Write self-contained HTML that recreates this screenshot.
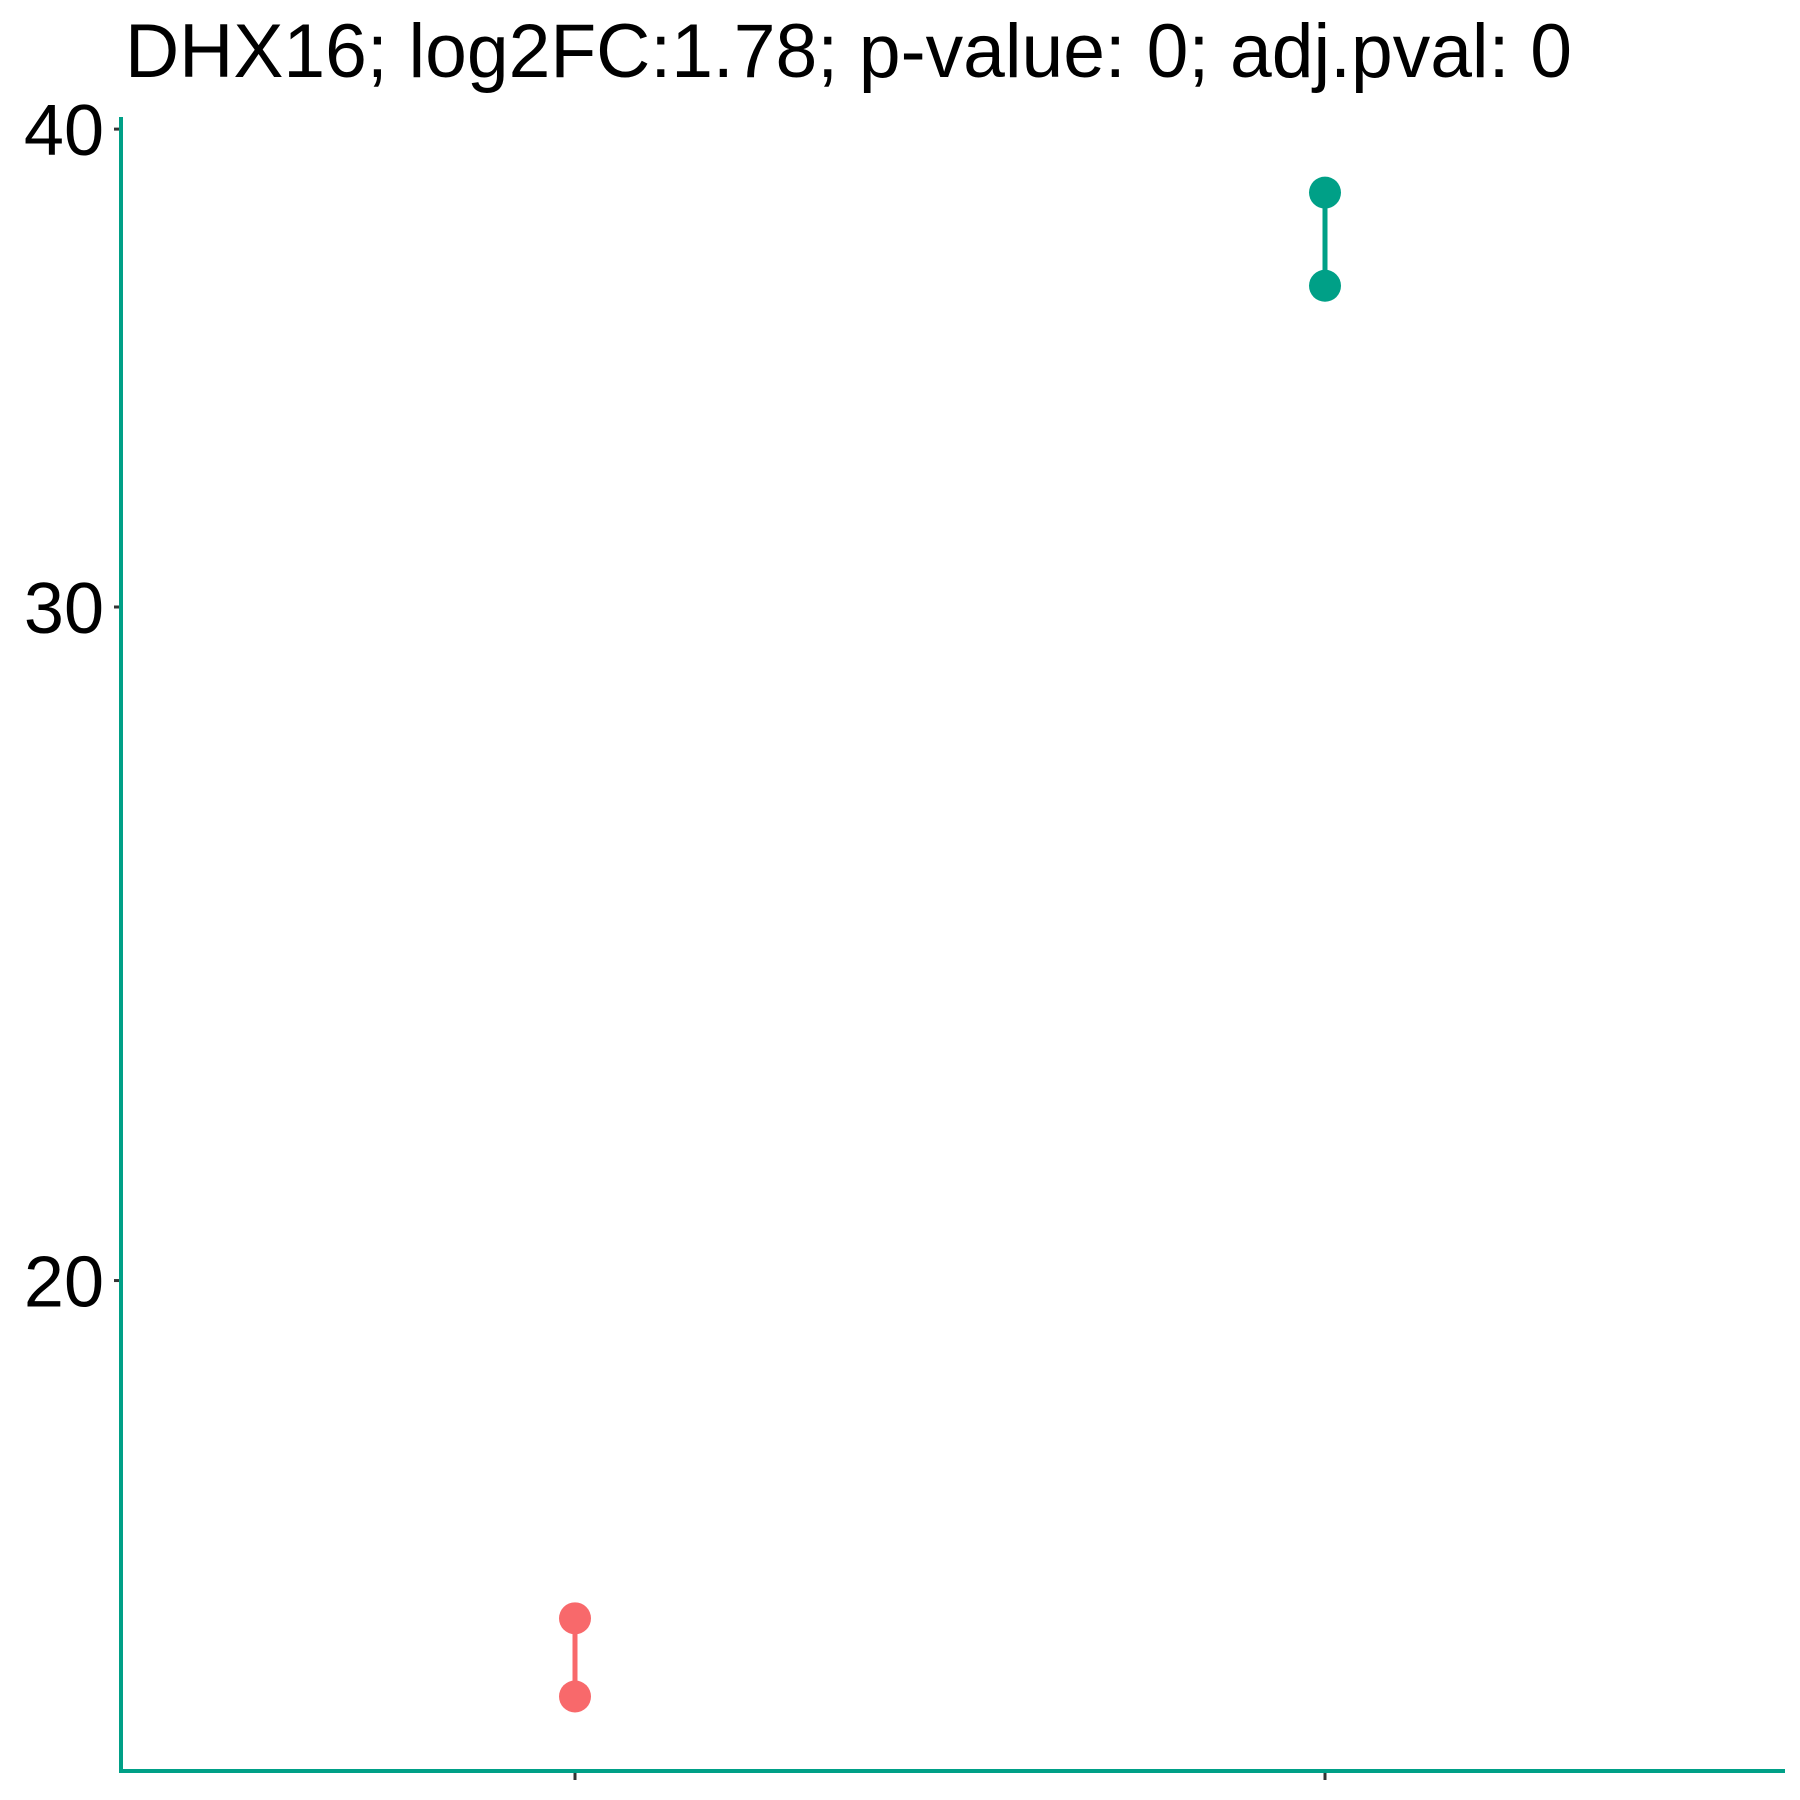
<!DOCTYPE html>
<html><head><meta charset="utf-8"><style>
html,body{margin:0;padding:0;background:#fff;}
svg{display:block;font-family:"Liberation Sans",Arial,sans-serif;}
</style></head><body>
<svg id="chart" width="1800" height="1800" viewBox="0 0 1800 1800" xmlns="http://www.w3.org/2000/svg">
<text x="125" y="77" font-size="76" fill="#000" textLength="1447" lengthAdjust="spacingAndGlyphs">DHX16; log2FC:1.78; p-value: 0; adj.pval: 0</text>
<g id="axes"></g>
<g id="marks"></g>
</svg>
<script>
const groups = ["control", "treated"];
const groupColors = ["#F8696B", "#00A087"];
const lowValues = [15.57, 36.4];
const highValues = [16.32, 38.5];
const yTicks = [20, 30, 40];
const yTickLabels = ["20", "30", "40"];

const NS = "http://www.w3.org/2000/svg";
const axisX = 121, axisY = 1771, plotRight = 1785;
const groupPos = [575, 1325];
function xScale(i){ return groupPos[i]; }
function yScale(v){ return 607 - (Math.log10(v) - Math.log10(30)) * 3825; }
function mk(tag, attrs, parent){
  const el = document.createElementNS(NS, tag);
  for (const k in attrs) el.setAttribute(k, attrs[k]);
  parent.appendChild(el);
  return el;
}
const axes = document.getElementById('axes');
const marks = document.getElementById('marks');

const yAxis = mk('line', {x1: axisX, y1: 117, x2: axisX, y2: axisY + 2, stroke: '#00A087', 'stroke-width': 4}, axes);


const xAxis = mk('line', {x1: axisX - 2, y1: axisY, x2: plotRight, y2: axisY, stroke: '#00A087', 'stroke-width': 4}, axes);



yTicks.forEach((t, i) => {
  const y = yScale(t);
  const tk = mk('line', {x1: axisX - 7, y1: y, x2: axisX - 2, y2: y, stroke: '#333', 'stroke-width': 3}, axes);
  
  
  const lb = mk('text', {x: 104, y: y + 26, 'text-anchor': 'end', 'font-size': 72, fill: '#000'}, axes);
  lb.textContent = yTickLabels[i];
  
  
});
groups.forEach((g, i) => {
  const x = xScale(i);
  const tk = mk('line', {x1: x, y1: axisY + 2, x2: x, y2: axisY + 9, stroke: '#333', 'stroke-width': 3}, axes);
  
  
});

groups.forEach((g, i) => {
  const x = xScale(i), c = groupColors[i];
  const ln = mk('line', {x1: x, y1: yScale(highValues[i]), x2: x, y2: yScale(lowValues[i]), stroke: c, 'stroke-width': 5}, marks);
  
  
  const p1 = mk('circle', {cx: x, cy: yScale(highValues[i]), r: 16, fill: c}, marks);
  
  
  const p2 = mk('circle', {cx: x, cy: yScale(lowValues[i]), r: 16, fill: c}, marks);
  
  
});
</script>
</body></html>
